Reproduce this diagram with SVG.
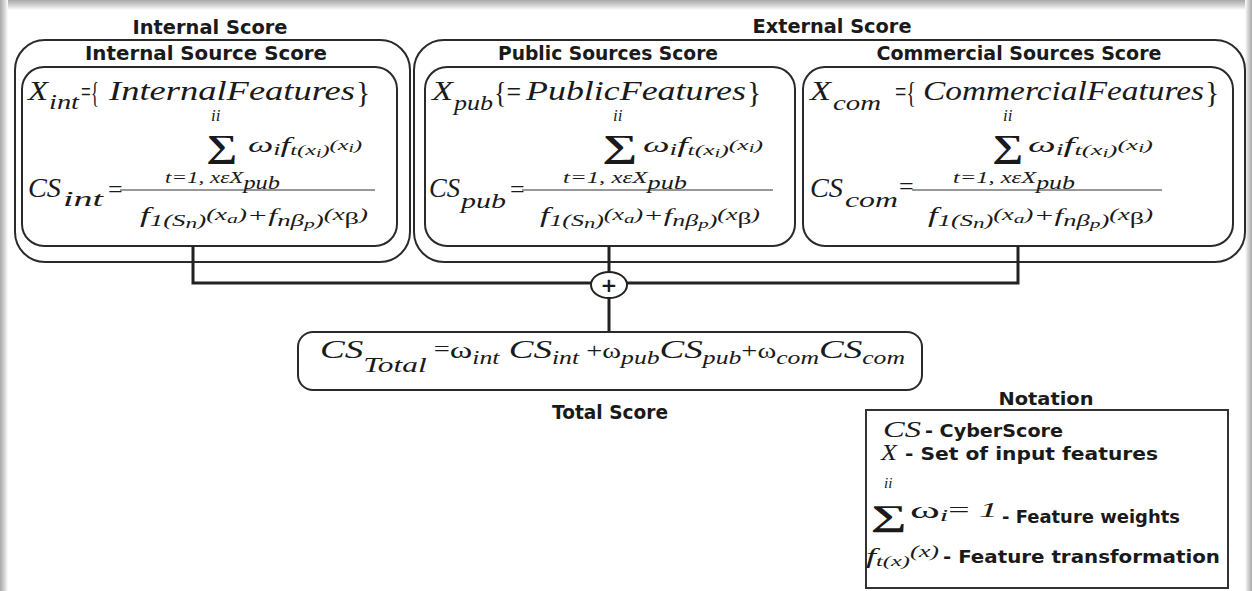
<svg xmlns="http://www.w3.org/2000/svg" width="1252" height="591" viewBox="0 0 1252 591">
<defs>
<linearGradient id="gTop" x1="0" y1="0" x2="0" y2="1"><stop offset="0" stop-color="#a9a9a9"/><stop offset="0.6" stop-color="#d8d8d8"/><stop offset="1" stop-color="#ffffff"/></linearGradient>
<linearGradient id="gLeft" x1="0" y1="0" x2="1" y2="0"><stop offset="0" stop-color="#a9a9a9"/><stop offset="0.6" stop-color="#d8d8d8"/><stop offset="1" stop-color="#ffffff"/></linearGradient>
<linearGradient id="gRight" x1="1" y1="0" x2="0" y2="0"><stop offset="0" stop-color="#a9a9a9"/><stop offset="0.6" stop-color="#d8d8d8"/><stop offset="1" stop-color="#ffffff"/></linearGradient>
</defs>
<style>
.box{fill:none;stroke:#2a2a2a;stroke-width:2}
.conn{fill:none;stroke:#222;stroke-width:3}
.frac{stroke:#333;stroke-width:1.2}
.t{font-family:"DejaVu Sans",sans-serif;font-weight:bold;font-size:19px;fill:#1a1a1a}
.n{font-family:"DejaVu Sans",sans-serif;font-weight:bold;font-size:18px;fill:#1a1a1a}
.m{font-family:"Liberation Serif",serif;font-style:italic;fill:#1a1a1a}
.r{font-family:"Liberation Serif",serif;font-style:normal;fill:#1a1a1a}
.sig{font-family:"Liberation Serif",serif;font-weight:bold;fill:#1a1a1a}
</style>
<rect x="0" y="0" width="1252" height="591" fill="#ffffff"/>
<rect x="0" y="0" width="1252" height="10" fill="url(#gTop)"/>
<rect x="0" y="0" width="8" height="591" fill="url(#gLeft)"/>
<rect x="1245" y="0" width="7" height="591" fill="url(#gRight)"/>

<g id="internal-score">
<text class="t" x="210" y="34" text-anchor="middle" textLength="155" lengthAdjust="spacingAndGlyphs">Internal Score</text>
<rect class="box" x="15" y="40" width="395" height="222" rx="30"/>
</g>

<g id="external-score">
<text class="t" x="832" y="33" text-anchor="middle" textLength="159" lengthAdjust="spacingAndGlyphs">External Score</text>
<rect class="box" x="414" y="40" width="831" height="222" rx="30"/>
</g>

<g id="internal-source">
<text class="t" x="206" y="60" text-anchor="middle" textLength="242" lengthAdjust="spacingAndGlyphs">Internal Source Score</text>
<rect class="box" x="22" y="67" width="375" height="179" rx="22"/>
<text class="m" x="28" y="100" font-size="28" textLength="20" lengthAdjust="spacingAndGlyphs">X</text>
<text class="m" x="49" y="109" font-size="22" textLength="30" lengthAdjust="spacingAndGlyphs">int</text>
<text class="r" x="81" y="102" font-size="30" textLength="18" lengthAdjust="spacingAndGlyphs">={</text>
<text class="m" x="109" y="100" font-size="27" textLength="246" lengthAdjust="spacingAndGlyphs">InternalFeatures</text>
<text class="r" x="356" y="102" font-size="30">}</text>
<text class="m" x="211" y="121" font-size="17">ii</text>
<text class="sig" x="206" y="157" font-size="32" textLength="31" lengthAdjust="spacingAndGlyphs">∑</text>
<text class="m" x="248" y="152" font-size="22" textLength="114" lengthAdjust="spacingAndGlyphs">ω<tspan dy="3" font-size="16">i</tspan><tspan dy="-3" font-size="22">f</tspan><tspan dy="3" font-size="15">t(x</tspan><tspan dy="2" font-size="12">i</tspan><tspan dy="-2" font-size="15">)</tspan><tspan dy="-5" font-size="15">(x</tspan><tspan dy="2" font-size="12">i</tspan><tspan dy="-2" font-size="15">)</tspan></text>
<text class="m" x="165" y="183" font-size="17" textLength="115" lengthAdjust="spacingAndGlyphs">t=1, xεX<tspan dy="6" font-size="18">pub</tspan></text>
<text class="m" x="28" y="197" font-size="27" textLength="33" lengthAdjust="spacingAndGlyphs">CS</text>
<text class="m" x="63" y="206" font-size="22" textLength="40" lengthAdjust="spacingAndGlyphs">int</text>
<text class="r" x="108" y="198" font-size="26">=</text>
<line class="frac" x1="120" y1="190" x2="375" y2="190"/>
<text class="m" x="140" y="222" font-size="21" textLength="228" lengthAdjust="spacingAndGlyphs">f<tspan dy="4" font-size="16">1(S</tspan><tspan dy="2" font-size="14">n</tspan><tspan dy="-2" font-size="16">)</tspan><tspan dy="-6" font-size="16">(x</tspan><tspan dy="3" font-size="13">a</tspan><tspan dy="-3" font-size="16">)</tspan><tspan dy="2" font-size="19">+f</tspan><tspan dy="4" font-size="16">nβ</tspan><tspan dy="2" font-size="13">p</tspan><tspan dy="-2" font-size="16">)</tspan><tspan dy="-6" font-size="16">(x</tspan><tspan dy="4" font-size="17" font-style="normal">β</tspan><tspan dy="-4" font-size="16">)</tspan></text>
</g>

<g id="public-sources">
<text class="t" x="608" y="60" text-anchor="middle" textLength="220" lengthAdjust="spacingAndGlyphs">Public Sources Score</text>
<rect class="box" x="425" y="67" width="370" height="179" rx="22"/>
<text class="m" x="432" y="100" font-size="28" textLength="21" lengthAdjust="spacingAndGlyphs">X</text>
<text class="m" x="454" y="110" font-size="22" textLength="39" lengthAdjust="spacingAndGlyphs">pub</text>
<text class="r" x="494" y="102" font-size="30" textLength="27" lengthAdjust="spacingAndGlyphs">{=</text>
<text class="m" x="526" y="100" font-size="27" textLength="220" lengthAdjust="spacingAndGlyphs">PublicFeatures</text>
<text class="r" x="747" y="102" font-size="30">}</text>
<text class="m" x="613" y="121" font-size="17">ii</text>
<text class="sig" x="602" y="157" font-size="32" textLength="35" lengthAdjust="spacingAndGlyphs">∑</text>
<text class="m" x="643" y="152" font-size="22" textLength="120" lengthAdjust="spacingAndGlyphs">ω<tspan dy="3" font-size="16">i</tspan><tspan dy="-3" font-size="22">f</tspan><tspan dy="3" font-size="15">t(x</tspan><tspan dy="2" font-size="12">i</tspan><tspan dy="-2" font-size="15">)</tspan><tspan dy="-5" font-size="15">(x</tspan><tspan dy="2" font-size="12">i</tspan><tspan dy="-2" font-size="15">)</tspan></text>
<text class="m" x="563" y="183" font-size="17" textLength="124" lengthAdjust="spacingAndGlyphs">t=1, xεX<tspan dy="6" font-size="18">pub</tspan></text>
<text class="m" x="429" y="197" font-size="27" textLength="31" lengthAdjust="spacingAndGlyphs">CS</text>
<text class="m" x="461" y="208" font-size="22" textLength="45" lengthAdjust="spacingAndGlyphs">pub</text>
<text class="r" x="510" y="198" font-size="26">=</text>
<line class="frac" x1="522" y1="190" x2="773" y2="190"/>
<text class="m" x="540" y="222" font-size="21" textLength="220" lengthAdjust="spacingAndGlyphs">f<tspan dy="4" font-size="16">1(S</tspan><tspan dy="2" font-size="14">n</tspan><tspan dy="-2" font-size="16">)</tspan><tspan dy="-6" font-size="16">(x</tspan><tspan dy="3" font-size="13">a</tspan><tspan dy="-3" font-size="16">)</tspan><tspan dy="2" font-size="19">+f</tspan><tspan dy="4" font-size="16">nβ</tspan><tspan dy="2" font-size="13">p</tspan><tspan dy="-2" font-size="16">)</tspan><tspan dy="-6" font-size="16">(x</tspan><tspan dy="4" font-size="17" font-style="normal">β</tspan><tspan dy="-4" font-size="16">)</tspan></text>
</g>

<g id="commercial-sources">
<text class="t" x="1019" y="60" text-anchor="middle" textLength="285" lengthAdjust="spacingAndGlyphs">Commercial Sources Score</text>
<rect class="box" x="803" y="67" width="430" height="179" rx="22"/>
<text class="m" x="810" y="100" font-size="28" textLength="21" lengthAdjust="spacingAndGlyphs">X</text>
<text class="m" x="833" y="110" font-size="22" textLength="48" lengthAdjust="spacingAndGlyphs">com</text>
<text class="r" x="895" y="102" font-size="30" textLength="21" lengthAdjust="spacingAndGlyphs">={</text>
<text class="m" x="923" y="100" font-size="27" textLength="281" lengthAdjust="spacingAndGlyphs">CommercialFeatures</text>
<text class="r" x="1205" y="102" font-size="30">}</text>
<text class="m" x="1003" y="121" font-size="17">ii</text>
<text class="sig" x="992" y="157" font-size="32" textLength="31" lengthAdjust="spacingAndGlyphs">∑</text>
<text class="m" x="1028" y="152" font-size="22" textLength="125" lengthAdjust="spacingAndGlyphs">ω<tspan dy="3" font-size="16">i</tspan><tspan dy="-3" font-size="22">f</tspan><tspan dy="3" font-size="15">t(x</tspan><tspan dy="2" font-size="12">i</tspan><tspan dy="-2" font-size="15">)</tspan><tspan dy="-5" font-size="15">(x</tspan><tspan dy="2" font-size="12">i</tspan><tspan dy="-2" font-size="15">)</tspan></text>
<text class="m" x="953" y="183" font-size="17" textLength="122" lengthAdjust="spacingAndGlyphs">t=1, xεX<tspan dy="6" font-size="18">pub</tspan></text>
<text class="m" x="810" y="197" font-size="27" textLength="33" lengthAdjust="spacingAndGlyphs">CS</text>
<text class="m" x="845" y="207" font-size="22" textLength="53" lengthAdjust="spacingAndGlyphs">com</text>
<text class="r" x="899" y="195" font-size="26">=</text>
<line class="frac" x1="912" y1="190" x2="1162" y2="190"/>
<text class="m" x="928" y="222" font-size="21" textLength="225" lengthAdjust="spacingAndGlyphs">f<tspan dy="4" font-size="16">1(S</tspan><tspan dy="2" font-size="14">n</tspan><tspan dy="-2" font-size="16">)</tspan><tspan dy="-6" font-size="16">(x</tspan><tspan dy="3" font-size="13">a</tspan><tspan dy="-3" font-size="16">)</tspan><tspan dy="2" font-size="19">+f</tspan><tspan dy="4" font-size="16">nβ</tspan><tspan dy="2" font-size="13">p</tspan><tspan dy="-2" font-size="16">)</tspan><tspan dy="-6" font-size="16">(x</tspan><tspan dy="4" font-size="17" font-style="normal">β</tspan><tspan dy="-4" font-size="16">)</tspan></text>
</g>

<g id="connectors">
<polyline class="conn" points="193,246 193,283 591,283"/>
<polyline class="conn" points="1018,246 1018,283 627,283"/>
<line class="conn" x1="609" y1="246" x2="609" y2="272"/>
<line class="conn" x1="609" y1="298" x2="609" y2="332"/>
</g>

<g id="sum-node">
<ellipse cx="609" cy="285" rx="18" ry="13" fill="#fff" stroke="#222" stroke-width="2"/>
<text x="609" y="292" font-family="DejaVu Sans, sans-serif" font-weight="bold" font-size="20" text-anchor="middle" fill="#1a1a1a">+</text>
</g>

<g id="total-score">
<rect class="box" x="298" y="332" width="624" height="58" rx="15"/>
<text class="m" x="320" y="358" font-size="26" textLength="585" lengthAdjust="spacingAndGlyphs">CS<tspan dy="14" font-size="22">Total</tspan><tspan dy="-16" font-style="normal" font-size="20"> =</tspan><tspan dy="2" font-style="normal" font-size="24">ω</tspan><tspan dy="6" font-size="18">int</tspan><tspan dy="-6" font-size="26"> CS</tspan><tspan dy="6" font-size="18">int</tspan><tspan dy="-6" font-style="normal" font-size="20"> +ω</tspan><tspan dy="6" font-size="18">pub</tspan><tspan dy="-6" font-size="26">CS</tspan><tspan dy="6" font-size="18">pub</tspan><tspan dy="-6" font-style="normal" font-size="20">+ω</tspan><tspan dy="6" font-size="18">com</tspan><tspan dy="-6" font-size="26">CS</tspan><tspan dy="6" font-size="18">com</tspan></text>
<text class="t" x="610" y="419" text-anchor="middle" textLength="116" lengthAdjust="spacingAndGlyphs">Total Score</text>
</g>

<g id="notation">
<text class="n" x="1046" y="405" text-anchor="middle" textLength="95" lengthAdjust="spacingAndGlyphs">Notation</text>
<rect x="866" y="410" width="362" height="178" fill="none" stroke="#333" stroke-width="2"/>
<text class="m" x="883" y="437" font-size="24" textLength="38" lengthAdjust="spacingAndGlyphs">CS</text>
<text class="n" x="925" y="437" textLength="138" lengthAdjust="spacingAndGlyphs">- CyberScore</text>
<text class="m" x="881" y="460" font-size="24" textLength="16" lengthAdjust="spacingAndGlyphs">X</text>
<text class="n" x="905" y="460" textLength="253" lengthAdjust="spacingAndGlyphs">- Set of input features</text>
<text class="m" x="884" y="488" font-size="15">ii</text>
<text class="sig" x="871" y="526" font-size="30" textLength="36" lengthAdjust="spacingAndGlyphs">∑</text>
<text class="r" x="910" y="518" font-size="24" textLength="88" lengthAdjust="spacingAndGlyphs">ω<tspan dy="3" class="m" font-size="16">i</tspan><tspan dy="-4" font-size="20">= </tspan><tspan class="m" font-size="20">1</tspan></text>
<text class="n" x="1002" y="523" textLength="178" lengthAdjust="spacingAndGlyphs">- Feature weights</text>
<text class="m" x="866" y="563" font-size="22" textLength="73" lengthAdjust="spacingAndGlyphs">f<tspan dy="3" font-size="15">t(x)</tspan><tspan dy="-9" font-size="16">(x)</tspan></text>
<text class="n" x="943" y="563" textLength="277" lengthAdjust="spacingAndGlyphs">- Feature transformation</text>
</g>
</svg>
